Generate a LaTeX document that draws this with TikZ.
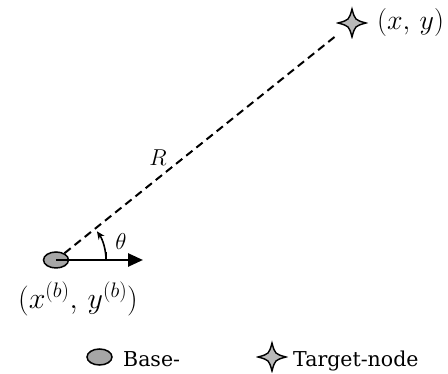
\RequirePackage{fix-cm}
\documentclass[tikz,border=0pt]{standalone}
\usepackage{fontspec}
\setmainfont{DejaVu Serif}
\usetikzlibrary{shapes.geometric,arrows.meta}
\tikzset{
  basenode/.style={ellipse, draw=black, line width=1.5pt, fill=gray!70,
    minimum width=25pt, minimum height=16pt, inner sep=0pt},
  starnode/.style={minimum size=32pt, inner sep=0pt,
    path picture={\draw[line width=1.4pt, fill=gray!55,
      shift={(path picture bounding box.center)}]
      (0pt,14pt) .. controls (3pt,3pt) .. (14pt,0pt)
      .. controls (3pt,-3pt) .. (0pt,-14pt)
      .. controls (-3pt,-3pt) .. (-14pt,0pt)
      .. controls (-3pt,3pt) .. cycle;}},
  mathbig/.style={inner sep=0pt, font=\fontsize{28}{32}\selectfont},
  mathbigger/.style={inner sep=0pt, font=\fontsize{30}{34}\selectfont},
  mathsmall/.style={inner sep=0pt, font=\fontsize{23}{27}\selectfont},
  legtext/.style={inner sep=0pt, font=\fontsize{20.5}{24}\selectfont},
  dashline/.style={line width=2pt, dash pattern=on 8pt off 5pt},
  mainarrow/.style={line width=2.6pt, -{Triangle[length=15pt,width=13pt]}},
}
\begin{document}
\begin{tikzpicture}[x=1pt,y=1pt]
\useasboundingbox (0,0) rectangle (448,374);
% main nodes
\node[starnode] (t) at (352,351) {};
\node[basenode] (b) at (56,114) {};
\coordinate (tip) at (143,114);
\coordinate (tickb) at (106,114);
\coordinate (ticka) at (106,122);
% dashed line
\draw[dashline] (b) -- (t);
% arrow
\draw[mainarrow] (b.center) -- (tip);
% tick and angle arc
\draw[line width=1.6pt] (tickb) -- (ticka);
\draw[line width=1.6pt, -{Stealth[length=8pt,width=7pt]}] (tickb) arc[start angle=0, end angle=35, radius=50];
% labels
\node[mathsmall] (theta) at (121,132) {$\theta$};
\node[mathsmall] (R) at (158,216) {$R$};
\node[mathbig, anchor=west] (xy) at (377,351) {$(x,\, y)$};
\node[mathbigger] (xbyb) at (78,75) {$(x^{(b)},\, y^{(b)})$};
% legend
\node[basenode] (lb) at (99.5,17) {};
\node[legtext, anchor=base west] (lbt) at (123,7) {Base-};
\node[starnode] (lt) at (272,17) {};
\node[legtext, anchor=base west] (ltt) at (293,7) {Target-node};
\end{tikzpicture}
\end{document}
